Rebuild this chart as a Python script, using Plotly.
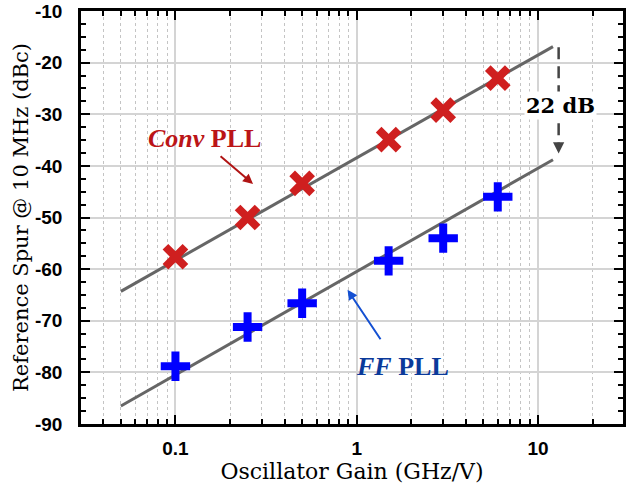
import plotly.graph_objects as go
import math

# ---- data ----
gain = [0.1, 0.25, 0.5, 1.5, 3, 6]
conv_spur = [-57.6, -50.0, -43.4, -34.9, -29.2, -23.0]
ff_spur = [-78.8, -71.2, -66.6, -58.4, -54.0, -46.0]

conv_fit_x = [0.05, 12.1]
conv_fit_y = [-64.3, -16.9]
ff_fit_x = [0.05, 12.1]
ff_fit_y = [-86.5, -38.8]

gap_x = [13.0, 13.0]
gap_y = [-17.0, -35.5]

x_tickvals = [0.1, 1, 10]
x_ticktext = ["0.1", "1", "10"]
y_tickvals = [-90, -80, -70, -60, -50, -40, -30, -20, -10]
y_ticktext = ["-90", "-80", "-70", "-60", "-50", "-40", "-30", "-20", "-10"]

RED = "#cf1f1f"
BLUE = "#0000ff"
GRAY = "#666666"

fig = go.Figure()

fig.add_trace(go.Scatter(x=conv_fit_x, y=conv_fit_y, mode="lines",
                         line=dict(color=GRAY, width=3), showlegend=False))
fig.add_trace(go.Scatter(x=ff_fit_x, y=ff_fit_y, mode="lines",
                         line=dict(color=GRAY, width=3), showlegend=False))
fig.add_trace(go.Scatter(x=gap_x, y=gap_y, mode="lines",
                         line=dict(color="#444444", width=2.5, dash="12px,7px"),
                         showlegend=False))
fig.add_trace(go.Scatter(x=gain, y=conv_spur, mode="markers",
                         marker=dict(symbol="x-thin", size=20, color=RED,
                                     line=dict(color=RED, width=8)),
                         showlegend=False))
fig.add_trace(go.Scatter(x=gain, y=ff_spur, mode="markers",
                         marker=dict(symbol="cross-thin", size=21, color=BLUE,
                                     line=dict(color=BLUE, width=8)),
                         showlegend=False))

lg = math.log10
annotations = [
    dict(x=lg(0.144), y=-34.6, xref="x", yref="y", showarrow=False,
         text="<i>Conv</i> PLL",
         font=dict(family="Liberation Serif", size=26, color="#bb1517", weight="bold")),
    dict(x=lg(0.268), y=-43.5, xref="x", yref="y", showarrow=True, text="",
         ax=-34, ay=-29, arrowcolor="#b01414", arrowwidth=2, arrowhead=2, arrowsize=1),
    dict(x=lg(1.78), y=-78.8, xref="x", yref="y", showarrow=False,
         text="<i>FF</i> PLL",
         font=dict(family="Liberation Serif", size=26, color="#0b3a9a", weight="bold")),
    dict(x=lg(0.89), y=-64.0, xref="x", yref="y", showarrow=True, text="",
         ax=34, ay=51, arrowcolor="#1450d2", arrowwidth=2, arrowhead=2, arrowsize=1),
    dict(x=lg(13.0), y=-37.6, xref="x", yref="y", showarrow=True, text="",
         ax=0, ay=-12, arrowcolor="#444444", arrowwidth=2.5, arrowhead=2, arrowsize=0.9),
    dict(x=lg(13.25), y=-28.4, xref="x", yref="y", showarrow=False,
         text="22 dB", bgcolor="white",
         font=dict(family="DejaVu Serif", size=21, color="black", weight="bold")),
]

fig.update_layout(
    width=627, height=487,
    margin=dict(l=81, r=1, t=11, b=63),
    paper_bgcolor="white", plot_bgcolor="white",
    annotations=annotations,
    xaxis=dict(
        type="log", range=[-1.521, 1.469],
        tickmode="array", tickvals=x_tickvals, ticktext=x_ticktext,
        ticks="inside", ticklen=9, tickwidth=2, tickcolor="black",
        showline=True, linewidth=2.5, linecolor="black", mirror="allticks",
        showgrid=True, gridcolor="#d4d4d4", gridwidth=1.5,
        zeroline=False,
        ticklabelstandoff=5,
        tickfont=dict(family="Liberation Sans", size=19, color="black", weight="bold"),
        minor=dict(dtick="D1", ticks="inside", ticklen=5, tickwidth=1.5, tickcolor="black",
                   showgrid=True, gridcolor="#c4c4c4", gridwidth=1, griddash="dot"),
        title=dict(text="Oscillator Gain (GHz/V)", standoff=0,
                   font=dict(family="DejaVu Serif", size=22, color="black")),
    ),
    yaxis=dict(
        range=[-90, -10],
        tickmode="array", tickvals=y_tickvals, ticktext=y_ticktext,
        ticks="inside", ticklen=9, tickwidth=2, tickcolor="black",
        showline=True, linewidth=2.5, linecolor="black", mirror="allticks",
        showgrid=True, gridcolor="#d4d4d4", gridwidth=1.5,
        zeroline=False,
        ticklabelstandoff=12,
        tickfont=dict(family="Liberation Sans", size=19, color="black", weight="bold"),
        minor=dict(dtick=2.5, ticks="inside", ticklen=5, tickwidth=1.5, tickcolor="black",
                   showgrid=False),
        title=dict(text="Reference Spur @ 10 MHz (dBc)", standoff=1,
                   font=dict(family="DejaVu Serif", size=21, color="black")),
    ),
)

fig.write_html("out.html")
